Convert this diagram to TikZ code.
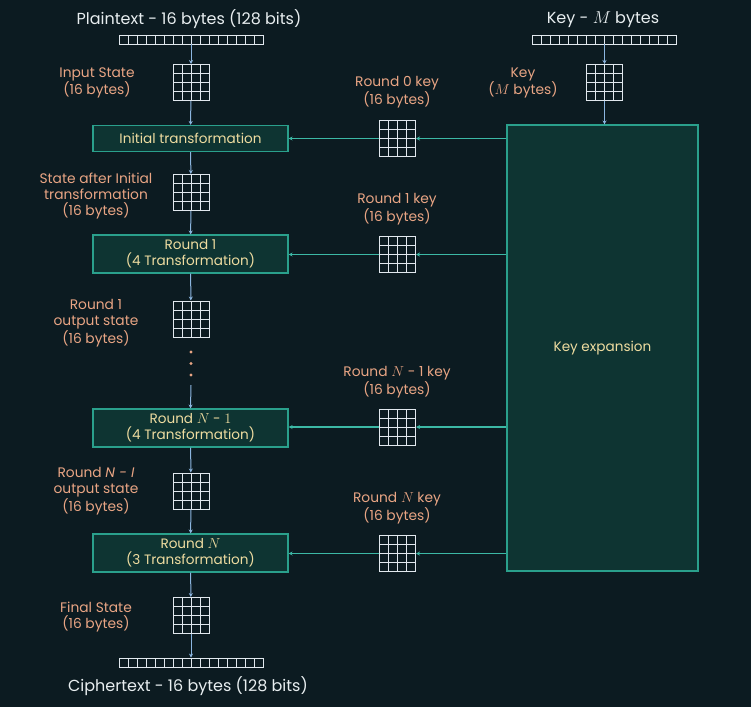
\documentclass[tikz,border=0pt]{standalone}
\usepackage{fontspec}
\setmainfont{Poppins}
\usetikzlibrary{calc,arrows.meta}
\definecolor{bg}{RGB}{12,27,33}
\definecolor{boxfill}{RGB}{14,52,50}
\definecolor{boxline}{RGB}{42,160,140}
\definecolor{tealarrow}{RGB}{60,184,165}
\definecolor{bluearrow}{RGB}{140,182,224}
\definecolor{labelc}{RGB}{233,165,132}
\definecolor{boxtext}{RGB}{238,220,160}
\definecolor{titlec}{RGB}{232,238,240}
\definecolor{gridc}{RGB}{225,232,238}
\tikzset{
  gridbox/.style={draw=gridc, line width=1pt, minimum width=36pt, minimum height=36pt, inner sep=0pt,
    path picture={
      \foreach \i in {1,2,3}{
        \draw[gridc, line width=1pt] ($(path picture bounding box.north west)!\i/4!(path picture bounding box.north east)$) -- ($(path picture bounding box.south west)!\i/4!(path picture bounding box.south east)$);
        \draw[gridc, line width=1pt] ($(path picture bounding box.north west)!\i/4!(path picture bounding box.south west)$) -- ($(path picture bounding box.north east)!\i/4!(path picture bounding box.south east)$);
      }}},
  barbox/.style={draw=gridc, line width=0.9pt, minimum width=144pt, minimum height=9pt, inner sep=0pt,
    path picture={
      \foreach \i in {1,...,15}{
        \draw[gridc, line width=0.9pt] ($(path picture bounding box.north west)!\i/16!(path picture bounding box.north east)$) -- ($(path picture bounding box.south west)!\i/16!(path picture bounding box.south east)$);
      }}},
  stagebox/.style={draw=boxline, fill=boxfill, line width=1.1pt, minimum width=195pt, inner sep=0pt, text=boxtext, align=center, font=\fontsize{13.6}{16}\selectfont},
  lbl/.style={text=labelc, align=center, font=\fontsize{13.8}{16}\selectfont, inner sep=0pt, yshift=-2pt},
  ttl/.style={text=titlec, font=\fontsize{16}{18}\selectfont, inner sep=0pt, yshift=-1pt},
  barrow/.style={draw=bluearrow, line width=1pt, -{Stealth[length=4pt,width=4pt]}},
  tarrow/.style={draw=tealarrow, line width=1.2pt, -{Stealth[length=4pt,width=4pt]}},
  dotc/.style={circle, fill=labelc, inner sep=0pt, minimum size=3.4pt},
}
\begin{document}
\begin{tikzpicture}[x=1pt,y=-1pt]
\useasboundingbox (0,0) rectangle (751,707);
\fill[bg] (0,0) rectangle (751,707);

% left column
\node[ttl] (ptitle) at (189,18) {Plaintext - 16 bytes (128 bits)};
\node[barbox] (pbar) at (191,39.5) {};
\node[gridbox] (g1) at (191,82.5) {};
\node[lbl] (l1) at (97,81) {Input State\\(16 bytes)};
\node[stagebox, minimum height=26pt] (b0) at (190.5,138.5) {Initial transformation};
\node[gridbox] (g2) at (191,192.5) {};
\node[lbl] (l2) at (96,194) {State after Initial\\transformation\\(16 bytes)};
\node[stagebox, minimum height=38pt] (b1) at (190.5,254) {Round 1\\(4 Transformation)};
\node[gridbox] (g3) at (191,319) {};
\node[lbl] (l3) at (96,321) {Round 1\\output state\\(16 bytes)};
\node[dotc] (d1) at (191,352) {};
\node[dotc] (d2) at (191,363.5) {};
\node[dotc] (d3) at (191,375) {};
\coordinate (dend) at (191,385);
\node[stagebox, minimum height=38pt] (bn1) at (190.5,428) {Round $N$ - $1$\\(4 Transformation)};
\node[gridbox] (g4) at (191,491) {};
\node[lbl] (l4) at (96,489) {Round \textit{N - I}\\output state\\(16 bytes)};
\node[stagebox, minimum height=38pt] (bn) at (190.5,553) {Round $N$\\(3 Transformation)};
\node[gridbox] (g5) at (191,615.5) {};
\node[lbl] (l5) at (96,615) {Final State\\(16 bytes)};
\node[barbox] (cbar) at (191,662.5) {};
\node[ttl] (ctitle) at (188,685) {Ciphertext - 16 bytes (128 bits)};

% key column
\node[ttl] (ktitle) at (603,19) {Key - $M$ bytes};
\node[barbox] (kbar) at (604.5,39.5) {};
\node[gridbox] (kg) at (604.5,82.5) {};
\node[lbl] (kl) at (523,81) {Key\\($M$ bytes)};
\node[draw=boxline, fill=boxfill, line width=1.1pt, minimum width=191pt, minimum height=446pt, inner sep=0pt, text=boxtext, font=\fontsize{13.6}{16}\selectfont] (kx) at (602.5,348) {Key expansion};

% round keys
\node[gridbox] (k0) at (397.5,138.5) {};
\node[lbl] (k0l) at (397,90) {Round 0 key\\(16 bytes)};
\node[gridbox] (k1) at (397.5,254.5) {};
\node[lbl] (k1l) at (397,207) {Round 1 key\\(16 bytes)};
\node[gridbox] (kn1) at (397.5,427) {};
\node[lbl] (kn1l) at (397,380) {Round $N$ - 1 key\\(16 bytes)};
\node[gridbox] (kn) at (397.5,553.5) {};
\node[lbl] (knl) at (397,506) {Round $N$ key\\(16 bytes)};

% blue arrows
\draw[barrow] (pbar) -- (g1);
\draw[barrow] (g1) -- (b0);
\draw[barrow] (b0) -- (g2);
\draw[barrow] (g2) -- (b1);
\draw[barrow] (b1) -- (g3);
\draw[barrow] (dend) -- (bn1.north);
\draw[barrow] (bn1) -- (g4);
\draw[barrow] (g4) -- (bn);
\draw[barrow] (bn) -- (g5);
\draw[barrow] (g5) -- (cbar);
\draw[barrow] (kbar) -- (kg);
\draw[barrow] (kg) -- (kg |- kx.north);

% teal arrows
\foreach \k/\b in {k0/b0,k1/b1,kn1/bn1,kn/bn}{
  \draw[tarrow] (kx.west |- \k.east) -- (\k.east);
  \draw[tarrow] (\k.west) -- (\b.east |- \k.west);
}
\end{tikzpicture}
\end{document}
